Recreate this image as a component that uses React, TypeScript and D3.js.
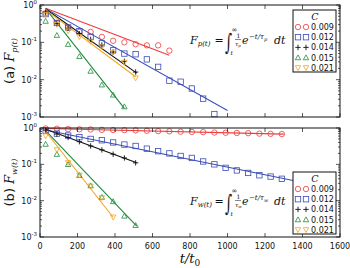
import * as d3 from 'd3';

// sample times t/t0 (every 60 starting at 30)
const times = [30, 90, 150, 210, 270, 330, 390, 450, 510, 570, 630, 690, 750, 810, 870, 930, 990, 1050, 1110, 1170, 1230, 1290];
const xTicks = [0, 200, 400, 600, 800, 1000, 1200, 1400, 1600];
const legendLabels = ['0.009', '0.012', '0.014', '0.015', '0.021'];
const colors = ['#ee3b3b', '#3a4cb8', '#111111', '#1f8a3c', '#f5a51f'];
const shapes = ['circle', 'square', 'plus', 'triUp', 'triDown'];

// panel (a) F_p(t)
const pRed = [0.6, 0.33, 0.25, 0.19, 0.19, 0.14, 0.11, 0.1, 0.089, 0.083, 0.083, 0.06];
const pBlue = [0.57, 0.33, 0.25, 0.2, 0.14, 0.094, 0.061, 0.05, 0.048, 0.035, 0.022, 0.0094, 0.0088, 0.0058, 0.0031, 0.0012];
const pBlack = [0.62, 0.32, 0.24, 0.17, 0.12, 0.085, 0.055, 0.031, 0.016];
const pGreen = [0.37, 0.155, 0.089, 0.042, 0.017, 0.0073, 0.0039, 0.0019];
const pOrange = [0.55, 0.3, 0.2, 0.14, 0.105, 0.075, 0.054, 0.029, 0.011];
const pFits = [
  [[30, 0.82], [690, 0.045]],
  [[30, 0.8], [1000, 0.0015]],
  [[30, 0.78], [516, 0.015]],
  [[30, 0.8], [450, 0.0017]],
  [[30, 0.74], [510, 0.012]],
];

// panel (b) F_w(t)
const wRed = [0.97, 0.95, 0.93, 0.92, 0.91, 0.89, 0.88, 0.87, 0.86, 0.84, 0.82, 0.81, 0.79, 0.78, 0.77, 0.75, 0.74, 0.73, 0.72, 0.7, 0.69, 0.68];
const wBlue = [0.85, 0.7, 0.62, 0.56, 0.5, 0.46, 0.4, 0.35, 0.32, 0.27, 0.23, 0.2, 0.17, 0.15, 0.12, 0.1, 0.08, 0.068, 0.058, 0.05, 0.046, 0.04];
const wBlack = [0.88, 0.68, 0.55, 0.42, 0.32, 0.25, 0.19, 0.15, 0.11];
const wGreen = [0.36, 0.19, 0.1, 0.05, 0.026, 0.0125, 0.0095, 0.0038, 0.0021];
const wOrange = [0.6, 0.25, 0.11, 0.05, 0.025, 0.012, 0.0035];
const wFits = [
  [[30, 0.97], [1300, 0.68]],
  [[30, 0.88], [1350, 0.036]],
  [[30, 0.92], [516, 0.11]],
  [[30, 0.85], [516, 0.002]],
  [[30, 0.8], [390, 0.0035]],
];

const SANS = 'DejaVu Sans, sans-serif';
const SERIF = 'DejaVu Serif, serif';

const x = d3.scaleLinear().domain([0, 1600]).range([40, 340]);

const Marker = ({ shape, cx, cy, color }) => {
  const s = 2.7;
  if (shape === 'circle') return <circle cx={cx} cy={cy} r={s} fill="none" stroke={color} strokeWidth={0.8} />;
  if (shape === 'square') return <rect x={cx - s} y={cy - s} width={2 * s} height={2 * s} fill="none" stroke={color} strokeWidth={0.8} />;
  if (shape === 'plus')
    return <path d={`M${cx - s},${cy}H${cx + s}M${cx},${cy - s}V${cy + s}`} stroke={color} strokeWidth={0.9} />;
  if (shape === 'triUp')
    return <path d={`M${cx},${cy - s}L${cx + s},${cy + s * 0.8}L${cx - s},${cy + s * 0.8}Z`} fill="none" stroke={color} strokeWidth={0.8} />;
  return <path d={`M${cx},${cy + s}L${cx + s},${cy - s * 0.8}L${cx - s},${cy - s * 0.8}Z`} fill="none" stroke={color} strokeWidth={0.8} />;
};

const Formula = ({ x0, base, sub }) => (
  <g fontFamily={SERIF} fill="#111">
    <text x={x0} y={base} fontSize={11} fontStyle="italic">
      F<tspan fontSize={7} dy={2}>{sub}(t)</tspan>
    </text>
    <text x={x0 + 24.5} y={base} fontSize={11}>=</text>
    <text transform={`translate(${x0 + 35},${base + 6}) scale(0.8,1.35)`} fontSize={17}>∫</text>
    <text x={x0 + 41.5} y={base - 12} fontSize={7}>∞</text>
    <text x={x0 + 40.5} y={base + 11} fontSize={6} fontStyle="italic">t</text>
    <text x={x0 + 46.5} y={base - 6} fontSize={6}>1</text>
    <line x1={x0 + 45} x2={x0 + 51} y1={base - 4.5} y2={base - 4.5} stroke="#111" strokeWidth={0.5} />
    <text x={x0 + 45} y={base + 1.5} fontSize={6} fontStyle="italic">
      τ<tspan fontSize={4} dy={1}>{sub}</tspan>
    </text>
    <text x={x0 + 52} y={base} fontSize={11} fontStyle="italic">e</text>
    <text x={x0 + 59} y={base - 5} fontSize={7} fontStyle="italic">
      −t/τ<tspan fontSize={5} dy={1.5}>{sub}</tspan>
    </text>
    <text x={x0 + 84} y={base} fontSize={11} fontStyle="italic">dt</text>
  </g>
);

const Panel = ({ top, bottom, series, fits, label, sub, showX, legendTop, formulaBase }) => {
  const y = d3.scaleLog().domain([1e-3, 1]).range([bottom, top]);
  const line = d3.line().x((d) => x(d[0])).y((d) => y(d[1]));
  const allTicks = y.ticks();
  const majors = [1e-3, 1e-2, 1e-1, 1];
  const mid = (top + bottom) / 2;
  return (
    <g>
      {/* fit lines */}
      {fits.map((f, i) => (
        <path key={'f' + i} d={line(f)} fill="none" stroke={colors[i]} strokeWidth={1.1} />
      ))}
      {/* markers */}
      {series.map((vals, i) =>
        vals.map((v, j) => <Marker key={i + '-' + j} shape={shapes[i]} cx={x(times[j])} cy={y(v)} color={colors[i]} />)
      )}
      {/* frame */}
      <rect x={40} y={top} width={300} height={bottom - top} fill="none" stroke="#111" strokeWidth={1} />
      {/* y ticks */}
      {allTicks.map((t, i) => {
        const isMajor = majors.some((m) => Math.abs(m - t) / m < 1e-6);
        const len = isMajor ? 4 : 2;
        const yy = y(t);
        return (
          <g key={'yt' + i} stroke="#111" strokeWidth={0.7}>
            <line x1={40} x2={40 + len} y1={yy} y2={yy} />
            <line x1={340} x2={340 - len} y1={yy} y2={yy} />
          </g>
        );
      })}
      {majors.map((m, i) => (
        <text key={'yl' + i} x={37} y={y(m) + 3} textAnchor="end" fontSize={8} fontFamily={SANS} fill="#111">
          10<tspan fontSize={5.5} dy={-4}>{Math.round(Math.log10(m))}</tspan>
        </text>
      ))}
      {/* x ticks */}
      {xTicks.map((t) => (
        <g key={'xt' + t} stroke="#111" strokeWidth={0.7}>
          <line x1={x(t)} x2={x(t)} y1={bottom} y2={bottom - 4} />
          <line x1={x(t)} x2={x(t)} y1={top} y2={top + 4} />
        </g>
      ))}
      {showX &&
        xTicks.map((t) => (
          <text key={'xl' + t} x={x(t)} y={bottom + 12} textAnchor="middle" fontSize={8} fontFamily={SANS} fill="#111">
            {t}
          </text>
        ))}
      {/* y label */}
      <text transform={`translate(14,${mid}) rotate(-90)`} textAnchor="middle" fill="#111">
        <tspan fontFamily={SANS} fontSize={13}>({label}) </tspan>
        <tspan fontFamily={SERIF} fontStyle="italic" fontSize={13}>F</tspan>
        <tspan fontFamily={SERIF} fontStyle="italic" fontSize={8} dy={3}>{sub}(t)</tspan>
      </text>
      <Formula x0={190} base={formulaBase} sub={sub} />
      {/* legend */}
      <g>
        <rect x={293} y={legendTop} width={43} height={62} fill="#fff" stroke="#111" strokeWidth={1} />
        <text x={315} y={legendTop + 10} textAnchor="middle" fontFamily={SERIF} fontStyle="italic" fontSize={9.5} fill="#111">
          C
        </text>
        {legendLabels.map((lab, i) => {
          const ly = legendTop + 17 + i * 10.2;
          return (
            <g key={'lg' + i}>
              <Marker shape={shapes[i]} cx={298} cy={ly} color={colors[i]} />
              <Marker shape={shapes[i]} cx={306} cy={ly} color={colors[i]} />
              <text x={311} y={ly + 3} fontSize={8} fontFamily={SANS} fill="#111">
                {lab}
              </text>
            </g>
          );
        })}
      </g>
    </g>
  );
};

export default function App() {
  return (
    <svg width={350} height={268} style={{ position: 'absolute', left: 0, top: 0, background: '#fff' }}>
      <Panel
        top={5}
        bottom={117}
        series={[pRed, pBlue, pBlack, pGreen, pOrange]}
        fits={pFits}
        label="a"
        sub="p"
        showX={false}
        legendTop={10}
        formulaBase={44}
      />
      <Panel
        top={128}
        bottom={237}
        series={[wRed, wBlue, wBlack, wGreen, wOrange]}
        fits={wFits}
        label="b"
        sub="w"
        showX={true}
        legendTop={172}
        formulaBase={205}
      />
      <text x={190} y={263} textAnchor="middle" fontFamily={SERIF} fontStyle="italic" fontSize={13} fill="#111">
        t/t<tspan fontSize={9} dy={3} fontStyle="normal">0</tspan>
      </text>
    </svg>
  );
}
